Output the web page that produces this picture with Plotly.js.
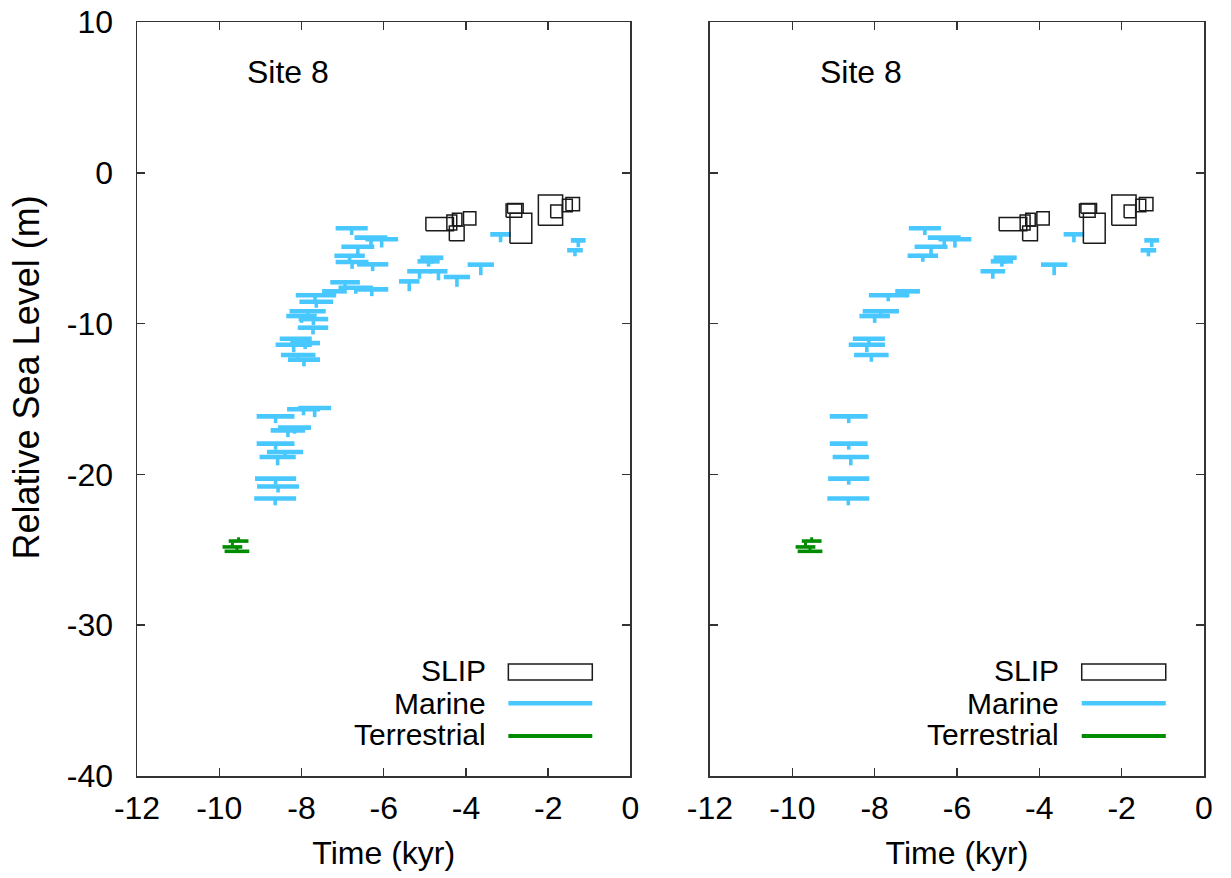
<!DOCTYPE html>
<html><head><meta charset="utf-8">
<script src="https://cdn.plot.ly/plotly-3.0.1.min.js"></script>
<style>html,body{margin:0;padding:0;background:#fff}#chart{width:1231px;height:878px}</style>
</head><body><div id="chart"></div>
<script>
// ---- Data ----
const siteLabel = 'Site 8';
const xTitle = 'Time (kyr)';
const yTitle = 'Relative Sea Level (m)';
const legendNames = ['SLIP', 'Marine', 'Terrestrial'];
const xTickVals = [-12, -10, -8, -6, -4, -2, 0];
const xTickText = ['-12', '-10', '-8', '-6', '-4', '-2', '0'];
const yTickVals = [-40, -30, -20, -10, 0, 10];
const yTickText = ['-40', '-30', '-20', '-10', '0', '10'];

// Marine limiting points: age (kyr), RSL (m), age half-range, depth range below
const marineAge = [-6.78,-6.31,-6.05,-6.63,-6.83,-6.77,-6.27,-6.94,-6.68,-6.29,-7.20,-7.67,-7.64,-7.85,-8.00,-7.71,-7.72,-8.14,-8.19,-7.91,-8.08,-7.94,-7.95,-7.68,-8.63,-8.17,-8.33,-8.63,-8.40,-8.58,-8.63,-8.57,-8.64,-3.16,-1.27,-1.35,-4.83,-4.91,-3.64,-5.13,-4.67,-4.22,-5.38];
const marineRSL = [-3.68,-4.30,-4.41,-4.90,-5.50,-5.92,-6.07,-7.26,-7.62,-7.73,-7.86,-8.12,-8.55,-9.18,-9.50,-9.70,-10.27,-11.00,-11.40,-11.29,-12.08,-12.39,-15.68,-15.60,-16.15,-16.90,-17.08,-17.96,-18.51,-18.85,-20.28,-20.80,-21.60,-4.08,-4.48,-5.14,-5.63,-5.87,-6.09,-6.53,-6.53,-6.91,-7.20];
const marineAgeErr = [0.39,0.40,0.40,0.40,0.37,0.40,0.38,0.36,0.42,0.40,0.30,0.47,0.41,0.44,0.37,0.36,0.37,0.39,0.44,0.36,0.42,0.39,0.40,0.40,0.46,0.40,0.42,0.46,0.44,0.44,0.50,0.51,0.51,0.25,0.18,0.19,0.28,0.27,0.32,0.30,0.22,0.32,0.25];
const marineDepthErr = [0.45,0.50,0.55,0.50,0.40,0.45,0.45,0.40,0.40,0.45,0.40,0.40,0.40,0.40,0.45,0.40,0.45,0.45,0.50,0.40,0.45,0.45,0.40,0.60,0.45,0.40,0.45,0.40,0.40,0.55,0.40,0.40,0.45,0.53,0.45,0.40,0.40,0.35,0.70,0.50,0.60,0.65,0.65];
// 1 = point also shown in the right panel
const marineInRight = [1,1,1,1,1,0,0,0,0,0,1,1,0,1,1,0,0,1,1,0,1,0,0,0,1,0,0,1,0,1,1,0,1,1,1,1,1,1,1,1,0,0,0];

// SLIP index points: age, RSL, age half-range, RSL half-range
const slipAge = [-4.64,-4.345,-4.215,-4.225,-3.91,-2.835,-2.80,-2.665,-1.945,-1.80,-1.535,-1.405];
const slipAgeErr = [0.335,0.12,0.115,0.18,0.15,0.19,0.19,0.265,0.295,0.14,0.12,0.165];
const slipRSL = [-3.40,-3.30,-3.11,-4.02,-3.02,-2.51,-2.36,-3.68,-2.47,-2.56,-2.17,-2.07];
const slipRSLErr = [0.44,0.50,0.42,0.49,0.44,0.44,0.33,1.00,1.00,0.42,0.41,0.44];

// Terrestrial limiting points: age, RSL, age half-range, range above
const terrAge = [-9.53,-9.68,-9.57];
const terrRSL = [-24.42,-24.81,-25.10];
const terrAgeErr = [0.24,0.24,0.30];
const terrUpErr = [0.25,0.30,0.30];

// ---- Styles ----
const FONT = 'Liberation Sans, Arial, sans-serif';
const FS = 32;
const LEGFS = 30;
const BLUE = '#48C8FF';
const GREEN = '#008C00';
const BOXC = '#1a1a1a';
const AXC = '#333333';

function pick(arr, flags) { return arr.filter((v, i) => flags[i]); }

function rects(ax, ay, ex, ey) {
  const xs = [], ys = [];
  for (let i = 0; i < ax.length; i++) {
    xs.push(ax[i] - ex[i], ax[i] + ex[i], ax[i] + ex[i], ax[i] - ex[i], ax[i] - ex[i], null);
    ys.push(ay[i] - ey[i], ay[i] - ey[i], ay[i] + ey[i], ay[i] + ey[i], ay[i] - ey[i], null);
  }
  return {xs, ys};
}

function panelTraces(xa, ya, mAge, mRSL, mAE, mDE) {
  const r = rects(slipAge, slipRSL, slipAgeErr, slipRSLErr);
  return [
    {type:'scatter', mode:'markers', x: terrAge, y: terrRSL, xaxis: xa, yaxis: ya,
     marker:{color:'rgba(0,0,0,0)', size:1}, showlegend:false, hoverinfo:'skip',
     error_x:{type:'data', array: terrAgeErr, color: GREEN, thickness: 3.6, width: 0},
     error_y:{type:'data', symmetric:false, array: terrUpErr, arrayminus: terrAge.map(() => 0), color: GREEN, thickness: 3, width: 0}},
    {type:'scatter', mode:'markers', x: mAge, y: mRSL, xaxis: xa, yaxis: ya,
     marker:{color:'rgba(0,0,0,0)', size:1}, showlegend:false, hoverinfo:'skip',
     error_x:{type:'data', array: mAE, color: BLUE, thickness: 4.6, width: 0},
     error_y:{type:'data', symmetric:false, array: mAge.map(() => 0), arrayminus: mDE, color: BLUE, thickness: 3.6, width: 0}},
    {type:'scatter', mode:'lines', x: r.xs, y: r.ys, xaxis: xa, yaxis: ya,
     line:{color: BOXC, width: 1.5}, showlegend:false, hoverinfo:'skip', connectgaps:false}
  ];
}

const data = [].concat(
  panelTraces('x', 'y', marineAge, marineRSL, marineAgeErr, marineDepthErr),
  panelTraces('x2', 'y2', pick(marineAge, marineInRight), pick(marineRSL, marineInRight),
              pick(marineAgeErr, marineInRight), pick(marineDepthErr, marineInRight))
);

const axCommon = {
  showline: true, linecolor: AXC, linewidth: 1.5, mirror: 'ticks',
  ticks: 'inside', ticklen: 8, tickwidth: 1.5, tickcolor: AXC,
  showgrid: false, zeroline: false,
  tickfont: {family: FONT, size: FS, color: '#000'}
};

const xax = Object.assign({}, axCommon, {range: [-12, 0], tickmode: 'array',
  tickvals: xTickVals, ticktext: xTickText, ticklabelstandoff: 3});
const yax = Object.assign({}, axCommon, {range: [-40, 10], tickmode: 'array',
  tickvals: yTickVals, ticktext: yTickText, ticklabelstandoff: 16});

const annotations = [];
const shapes = [];
// y-axis title (placed as rotated text beside the left panel)
annotations.push({xref: 'paper', yref: 'y domain', x: -0.1031, y: 0.5285, text: yTitle, textangle: -90,
                  showarrow: false, xanchor: 'center', yanchor: 'middle',
                  font: {family: FONT, size: 36, color: '#000'}});
[['x', 'y'], ['x2', 'y2']].forEach(([xa, ya]) => {
  const xd = xa + ' domain', yd = ya + ' domain';
  annotations.push({xref: xd, yref: yd, x: 0.306, y: 0.934, text: siteLabel, showarrow: false,
                    xanchor: 'center', yanchor: 'middle', font: {family: FONT, size: FS, color: '#000'}});
  const ty = [0.1394, 0.0968, 0.0544];
  legendNames.forEach((nm, i) => {
    annotations.push({xref: xd, yref: yd, x: 0.709, y: ty[i], text: nm, showarrow: false, borderpad: 0,
                      xanchor: 'right', yanchor: 'middle', font: {family: FONT, size: LEGFS, color: '#000'}});
  });
  shapes.push({type: 'rect', xref: xd, yref: yd, x0: 0.7525, x1: 0.9226, y0: 0.1273, y1: 0.1485,
               line: {color: BOXC, width: 1.5}, fillcolor: 'rgba(0,0,0,0)'});
  shapes.push({type: 'line', xref: xd, yref: yd, x0: 0.7525, x1: 0.9226, y0: 0.0964, y1: 0.0964,
               line: {color: BLUE, width: 4.6}});
  shapes.push({type: 'line', xref: xd, yref: yd, x0: 0.7525, x1: 0.9226, y0: 0.053, y1: 0.053,
               line: {color: GREEN, width: 4}});
});

const layout = {
  width: 1231, height: 878,
  margin: {l: 137, r: 27, t: 22, b: 102},
  paper_bgcolor: '#fff', plot_bgcolor: '#fff',
  showlegend: false,
  font: {family: FONT, size: FS, color: '#000'},
  xaxis: Object.assign({}, xax, {domain: [0, 0.4625], anchor: 'y',
          title: {text: xTitle, font: {family: FONT, size: FS, color: '#000'}, standoff: 16}}),
  xaxis2: Object.assign({}, xax, {domain: [0.537, 1], anchor: 'y2',
          title: {text: xTitle, font: {family: FONT, size: FS, color: '#000'}, standoff: 16}}),
  yaxis: Object.assign({}, yax, {domain: [0, 1], anchor: 'x'}),
  yaxis2: Object.assign({}, yax, {domain: [0, 1], anchor: 'x2', showticklabels: false}),
  annotations: annotations,
  shapes: shapes
};

Plotly.newPlot('chart', data, layout, {displayModeBar: false, staticPlot: true});
</script></body></html>
